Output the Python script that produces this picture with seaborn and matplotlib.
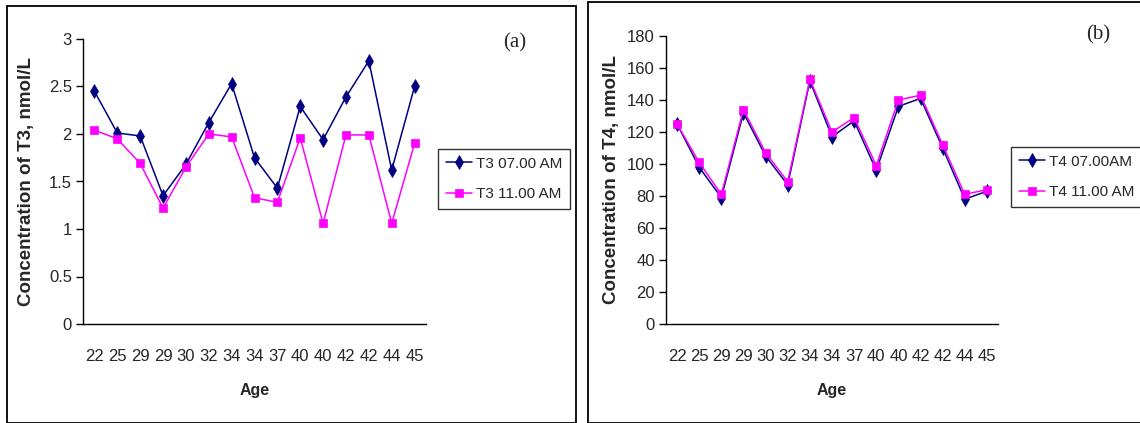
import numpy as np
import pandas as pd
import matplotlib
matplotlib.use("Agg")
import matplotlib.pyplot as plt
import seaborn as sns
from matplotlib.patches import Rectangle

# data
ages = ['22', '25', '29', '29', '30', '32', '34', '34', '37', '40', '40', '42', '42', '44', '45']
t3_am7 = [2.45, 2.01, 1.98, 1.35, 1.68, 2.12, 2.53, 1.75, 1.43, 2.29, 1.94, 2.39, 2.77, 1.62, 2.50]
t3_am11 = [2.04, 1.95, 1.69, 1.22, 1.65, 2.00, 1.97, 1.33, 1.28, 1.96, 1.06, 1.99, 1.99, 1.06, 1.90]
t4_am7 = [125, 98, 79, 132, 105, 87, 152, 117, 127, 96, 136, 141, 110, 78, 83]
t4_am11 = [125, 101, 81, 134, 107, 89, 153, 120, 129, 99, 140, 143, 112, 81, 84]

sns.set_style("white")
plt.rcParams['font.family'] = ['Liberation Sans', 'DejaVu Sans']

W, H = 1140, 423
fig = plt.figure(figsize=(W / 100, H / 100), dpi=100)
fig.patch.set_facecolor('white')


def px_axes(x0, y0, x1, y1):
    return fig.add_axes([x0 / W, 1 - y1 / H, (x1 - x0) / W, (y1 - y0) / H])


# panel borders
fig.patches.append(Rectangle((7 / W, 0), (576 - 7) / W, 1 - 6 / H, transform=fig.transFigure,
                             fill=False, edgecolor='black', lw=1.3))
fig.patches.append(Rectangle((588 / W, 0), (1145 - 588) / W, 1 - 2 / H, transform=fig.transFigure,
                             fill=False, edgecolor='black', lw=1.3))

navy = '#000080'
mag = '#FF00FF'


def panel(ax, s1, s2, n1, n2, ymax, ystep, ylab):
    df = pd.DataFrame({
        'pos': list(range(len(ages))) * 2,
        'val': s1 + s2,
        'series': [n1] * len(ages) + [n2] * len(ages),
    })
    sns.lineplot(data=df, x='pos', y='val', hue='series', style='series',
                 palette={n1: navy, n2: mag}, markers={n1: 'd', n2: 's'},
                 dashes=False, ax=ax, legend=False, lw=1.1, markersize=7.5,
                 markeredgewidth=0.5)
    for ln, c in zip(ax.lines, [navy, mag]):
        ln.set_markeredgecolor(c)
        ln.set_markerfacecolor(c)
    ax.lines[1].set_markersize(6)
    ax.set_xlim(-0.5, len(ages) - 0.5)
    ax.set_ylim(0, ymax)
    ax.set_xticks(range(len(ages)))
    ax.set_xticklabels(ages)
    ax.set_xticks(np.arange(-0.5, len(ages), 1), minor=True)
    ax.tick_params(axis='x', which='major', length=0, pad=18, labelsize=12)
    ax.tick_params(axis='x', which='minor', length=5, width=1, direction='out', color='black')
    ax.set_yticks(np.arange(0, ymax + ystep / 2, ystep))
    if ystep < 1:
        ax.set_yticklabels([('%g' % v) for v in np.arange(0, ymax + ystep / 2, ystep)])
    ax.tick_params(axis='y', length=5, width=1, direction='out', color='black',
                   labelsize=12, left=True, pad=3)
    for side in ['top', 'right']:
        ax.spines[side].set_visible(False)
    for side in ['left', 'bottom']:
        ax.spines[side].set_color('black')
        ax.spines[side].set_linewidth(1)
    ax.set_xlabel('Age', fontsize=11.5, fontweight='bold', labelpad=14)
    ax.set_ylabel(ylab, fontsize=13.5, fontweight='bold')
    ax.yaxis.set_label_coords(-48 / 343, 0.5)
    ax.set_facecolor('white')
    return ax.lines[:2]


def legend(ax, handles, labels, x, y):
    lg = ax.legend(handles, labels, loc='upper left',
                   bbox_to_anchor=(x / W, 1 - y / H), bbox_transform=fig.transFigure,
                   frameon=True, fancybox=False, edgecolor='black', fontsize=11,
                   handlelength=1.7, borderpad=0.5, labelspacing=1.1, handletextpad=0.3,
                   borderaxespad=0)
    lg.get_frame().set_linewidth(1)


axa = px_axes(83, 39, 426, 324)
ha = panel(axa, t3_am7, t3_am11, 'T3 07.00 AM', 'T3 11.00 AM', 3, 0.5,
           'Concentration of T3, nmol/L')
legend(axa, ha, ['T3 07.00 AM', 'T3 11.00 AM'], 438, 149)

axb = px_axes(666, 36, 998, 324)
hb = panel(axb, t4_am7, t4_am11, 'T4 07.00AM', 'T4 11.00 AM', 180, 20,
           'Concentration of T4, nmol/L')
legend(axb, hb, ['T4 07.00AM', 'T4 11.00 AM'], 1011, 147)

fig.text(515 / W, 1 - 43 / H, '(a)', family='Liberation Serif', fontsize=15,
         ha='center', va='center')
fig.text(1098 / W, 1 - 35 / H, '(b)', family='Liberation Serif', fontsize=15,
         ha='center', va='center')

fig.savefig('out.png', dpi=100)
